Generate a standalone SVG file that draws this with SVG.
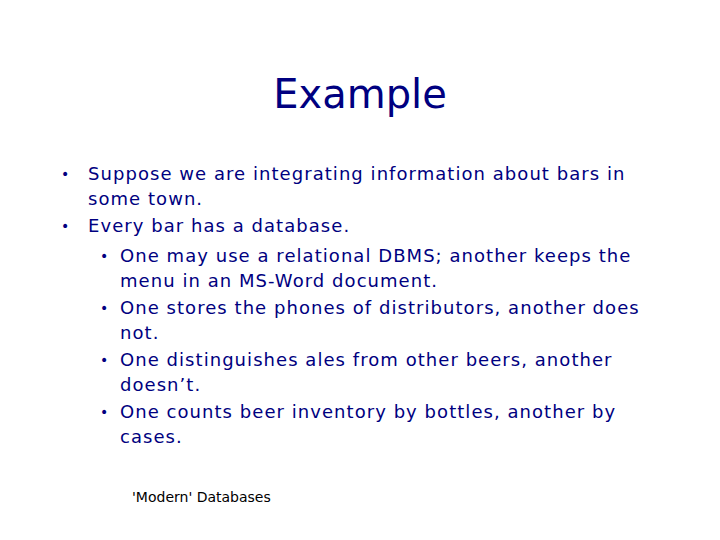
<svg xmlns="http://www.w3.org/2000/svg" width="720" height="540" viewBox="0 0 720 540">
<style>
text{font-family:"DejaVu Sans",Verdana,sans-serif;}
.t{font-size:40px;fill:#000080;}
.b{font-size:18px;fill:#000080;letter-spacing:1.05px;}
.d{font-size:14px;}
.f{font-size:14px;fill:#000;}
</style>
<rect width="720" height="540" fill="#fff"/>
<text class="t" x="360" y="108" text-anchor="middle">Example</text>
<g class="b">
<text class="d" x="61" y="179">•</text><text x="88" y="180">Suppose we are integrating information about bars in</text>
<text x="88" y="205">some town.</text>
<text class="d" x="61" y="231">•</text><text x="88" y="232">Every bar has a database.</text>
<text class="d" x="100" y="261">•</text><text x="120" y="262">One may use a relational DBMS; another keeps the</text>
<text x="120" y="287">menu in an MS-Word document.</text>
<text class="d" x="100" y="313">•</text><text x="120" y="314">One stores the phones of distributors, another does</text>
<text x="120" y="339">not.</text>
<text class="d" x="100" y="365">•</text><text x="120" y="366">One distinguishes ales from other beers, another</text>
<text x="120" y="391">doesn’t.</text>
<text class="d" x="100" y="417">•</text><text x="120" y="418">One counts beer inventory by bottles, another by</text>
<text x="120" y="443">cases.</text>
</g>
<text class="f" x="132" y="502">'Modern' Databases</text>
</svg>
